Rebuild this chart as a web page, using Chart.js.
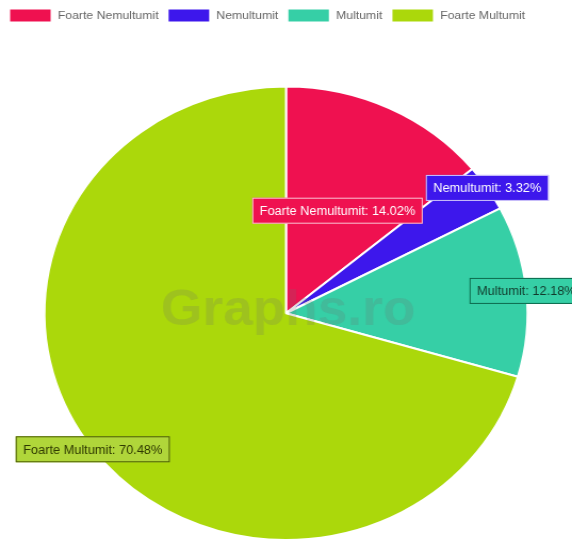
<!DOCTYPE html>
<html lang="ro">
<head>
<meta charset="utf-8">
<script src="https://cdn.jsdelivr.net/npm/chart.js"></script>
<style>
  html, body { margin: 0; padding: 0; background: #fff; }
  #pieChart { display: block; }
</style>
</head>
<body>
<canvas id="pieChart" width="537" height="553" style="width:572px;height:553px"></canvas>
<script>
// data
const categories = ['Foarte Nemultumit', 'Nemultumit', 'Multumit', 'Foarte Multumit'];
const percentages = [14.02, 3.32, 12.18, 70.48];

// look
const sliceColors = ['#EF1150', '#3D17EC', '#36CFA6', '#ABD80B'];
const labelBg = ['#EF1150', '#3D17EC', '#36CFA6', '#B0D63A'];
const labelBorder = ['rgba(255,255,255,0.75)', 'rgba(255,255,255,0.75)', '#0d6a4c', '#4a5c00'];
const labelText = ['#ffffff', '#ffffff', '#123a2c', '#2e3800'];
const labelAnchor = ['center', 'end', 'end', 'end'];

// extra room under the legend
const legendGap = {
    id: 'legendGap',
    beforeInit(chart) {
        const fit = chart.legend.fit;
        chart.legend.fit = function () {
            fit.call(this);
            this.height += 53;
        };
    }
};

// watermark + boxed labels on each slice
const sliceLabels = {
    id: 'sliceLabels',
    afterDatasetsDraw(chart) {
        const ctx = chart.ctx;
        const area = chart.chartArea;
        ctx.save();
        ctx.font = 'bold 50px "Liberation Sans", Arial, sans-serif';
        ctx.fillStyle = 'rgba(110,110,110,0.2)';
        ctx.textAlign = 'center';
        ctx.textBaseline = 'middle';
        ctx.fillText('Graphs.ro', (area.left + area.right) / 2 + 2, (area.top + area.bottom) / 2 - 2);

        ctx.font = '12px "Liberation Sans", Arial, sans-serif';
        const meta = chart.getDatasetMeta(0);
        meta.data.forEach((arc, i) => {
            let x, y;
            if (labelAnchor[i] === 'center') {
                const p = arc.tooltipPosition();
                x = p.x; y = p.y;
            } else {
                const mid = (arc.startAngle + arc.endAngle) / 2;
                x = arc.x + Math.cos(mid) * arc.outerRadius;
                y = arc.y + Math.sin(mid) * arc.outerRadius;
            }
            const txt = categories[i] + ': ' + percentages[i].toFixed(2) + '%';
            const w = ctx.measureText(txt).width + 14;
            const h = 26;
            ctx.fillStyle = labelBg[i];
            ctx.fillRect(x - w / 2, y - h / 2, w, h);
            ctx.lineWidth = 1;
            ctx.strokeStyle = labelBorder[i];
            ctx.strokeRect(x - w / 2 + 0.5, y - h / 2 + 0.5, w - 1, h - 1);
            ctx.fillStyle = labelText[i];
            ctx.fillText(txt, x, y + 1);
        });
        ctx.restore();
    }
};

new Chart(document.getElementById('pieChart'), {
    type: 'pie',
    data: {
        labels: categories,
        datasets: [{
            data: percentages,
            backgroundColor: sliceColors,
            borderColor: '#ffffff',
            borderWidth: 2
        }]
    },
    options: {
        responsive: false,
        animation: false,
        layout: { padding: { bottom: 12 } },
        plugins: {
            legend: {
                position: 'top',
                align: 'start',
                labels: {
                    boxWidth: 40,
                    boxHeight: 14,
                    padding: 8.5,
                    color: '#666',
                    font: { size: 11.5, family: '"Liberation Sans", Arial, sans-serif' }
                }
            },
            tooltip: { enabled: false }
        }
    },
    plugins: [legendGap, sliceLabels]
});
</script>
</body>
</html>
